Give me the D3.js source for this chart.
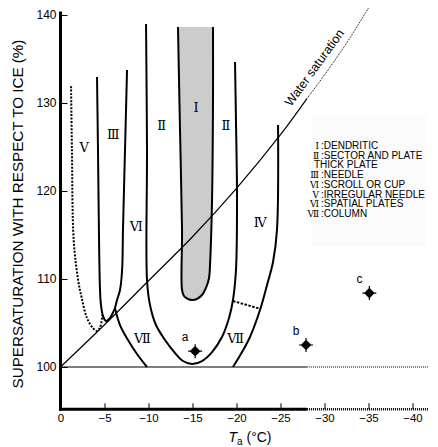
<!DOCTYPE html>
<html>
<head>
<meta charset="utf-8">
<script src="https://cdn.jsdelivr.net/npm/d3@7"></script>
<style>
  body { margin: 0; background: #fff; }
  svg { display: block; }
</style>
</head>
<body>
<span></span>
<script>
// crystal habit diagram: temperature (T_a) vs supersaturation over ice

// tick values
const xTicks = [0, -5, -10, -15, -20, -25, -30, -35, -40];
const yTicks = [100, 110, 120, 130, 140];

// water saturation curve [T, S]
const waterSolid  = [[0,100],[-5,104.8],[-10,109.8],[-15,114.8],[-20,120.3],[-25,126.4],[-28,130.5]];
const waterDotted = [[-28,130.5],[-30,133.2],[-32.5,136.8],[-35,140.8]];

// habit boundaries [T, S]
const curveV = [[-1.2,131.9],[-1.3,124.7],[-1.5,114.4],[-2.0,109.9],[-2.4,107.9],[-3.0,105.6],[-3.7,104.4],[-4.15,104.1],[-4.5,104.5],[-4.75,105.9]];
const curveIII = [[-4.15,132.95],[-4.26,124.7],[-4.38,114.4],[-4.49,108.75],[-4.6,107.05],[-4.83,105.8],[-5.17,105.23],[-5.63,105.57],[-5.97,106.2],[-6.19,106.7],[-6.42,107.6],[-6.76,108.75],[-7.0,111.0],[-7.1,115.57],[-7.33,124.66],[-7.56,133.75]];
const curveVIIa = [[-6.19,106.7],[-6.76,104.77],[-7.67,103.07],[-8.69,101.48],[-9.83,100]];
const curveBigU = [[-9.72,138.98],[-9.83,124.66],[-9.83,109.89],[-10.17,107.05],[-10.85,104.77],[-11.88,103.07],[-13.01,101.59],[-13.92,100.68],[-14.94,100.34],[-16.08,100.68],[-17.22,101.7],[-18.35,103.41],[-19.15,105.57],[-19.6,107.61],[-19.94,111.02],[-20.06,118.98],[-19.94,128.07],[-19.83,134.66]];
const curveIV = [[-24.72,127.5],[-24.6,115.57],[-24.15,111.93],[-23.47,109.32],[-22.67,106.48],[-21.53,103.41],[-20.63,101.7],[-19.6,100]];
const curveVIIb = [[-19.6,107.5],[-22.78,106.59]];
const shadedI = [[-13.35,138.64],[-13.58,126.93],[-13.81,115.57],[-13.81,108.75],[-14.03,108.07],[-14.49,107.73],[-14.94,107.61],[-15.51,107.73],[-16.08,108.18],[-16.53,108.98],[-16.88,110.11],[-16.99,111.59],[-17.22,118.98],[-17.33,130.34],[-17.33,138.64]];

// region labels
const regionNames = ["Ⅰ","Ⅱ","Ⅱ","Ⅲ","Ⅴ","Ⅵ","Ⅳ","Ⅶ","Ⅶ"];
const regionT = [-15.4,-11.5,-18.8,-6.0,-2.7,-8.6,-22.7,-9.3,-19.9];
const regionS = [129.5,127.5,127.5,126.4,125.0,116.0,116.4,103.2,103.2];

// observed points
const pointNames = ["a","b","c"];
const pointT = [-15.3,-27.9,-35.1];
const pointS = [101.8,102.5,108.4];

// legend
const legendNums = ["Ⅰ","Ⅱ","","Ⅲ","Ⅵ","Ⅴ","Ⅵ","Ⅶ"];
const legendText = ["DENDRITIC","SECTOR AND PLATE","THICK PLATE","NEEDLE","SCROLL OR CUP","IRREGULAR NEEDLE","SPATIAL PLATES","COLUMN"];

const width = 438, height = 447;
const numFont = "DejaVu Serif, Liberation Serif, serif";

const svg = d3.select("span").append("svg")
    .attr("width", width)
    .attr("height", height);

const x = d3.scaleLinear().domain([0, -40]).range([60.5, 412.5]);
const y = d3.scaleLinear().domain([100, 140]).range([367, 15]);

const line = d3.line()
    .x(d => x(d[0]))
    .y(d => y(d[1]))
    .curve(d3.curveCatmullRom.alpha(0.5));

const straight = d3.line()
    .x(d => x(d[0]))
    .y(d => y(d[1]));

// very faint legend background
svg.append("rect")
    .attr("x", 312).attr("y", 116)
    .attr("width", 114).attr("height", 130)
    .attr("fill", "#fbfbfb");

// shaded dendritic zone
svg.append("path")
    .datum(shadedI)
    .attr("d", line)
    .attr("fill", "#cccccc")
    .attr("stroke", "none");
svg.append("path")
    .datum(shadedI)
    .attr("d", line)
    .attr("fill", "none")
    .attr("stroke", "#000")
    .attr("stroke-width", 2);

// 100% line
svg.append("line")
    .attr("x1", x(0)).attr("x2", x(-28))
    .attr("y1", y(100)).attr("y2", y(100))
    .attr("stroke", "#000").attr("stroke-width", 1.2);
svg.append("line")
    .attr("x1", x(-28)).attr("x2", x(-41.8))
    .attr("y1", y(100)).attr("y2", y(100))
    .attr("stroke", "#000").attr("stroke-width", 1)
    .attr("stroke-dasharray", "1,1");

// water saturation
svg.append("path")
    .datum(waterSolid)
    .attr("d", line)
    .attr("fill", "none")
    .attr("stroke", "#000")
    .attr("stroke-width", 1.2);
svg.append("path")
    .datum(waterDotted)
    .attr("d", line)
    .attr("fill", "none")
    .attr("stroke", "#000")
    .attr("stroke-width", 1)
    .attr("stroke-dasharray", "1,1");

svg.append("text")
    .attr("transform", "translate(291,107) rotate(-54)")
    .attr("font-family", "Liberation Sans, Arial, sans-serif")
    .attr("font-size", 12.5)
    .text("Water saturation");

// habit boundaries
[curveIII, curveVIIa, curveBigU, curveIV].forEach(c => {
    svg.append("path")
        .datum(c)
        .attr("d", line)
        .attr("fill", "none")
        .attr("stroke", "#000")
        .attr("stroke-width", 2);
});
svg.append("path")
    .datum(curveV)
    .attr("d", line)
    .attr("fill", "none")
    .attr("stroke", "#000")
    .attr("stroke-width", 2)
    .attr("stroke-dasharray", "2,1.5");
svg.append("path")
    .datum(curveVIIb)
    .attr("d", straight)
    .attr("fill", "none")
    .attr("stroke", "#000")
    .attr("stroke-width", 2)
    .attr("stroke-dasharray", "2.5,1.5");

// region labels
svg.selectAll(".region")
    .data(regionNames)
    .enter()
    .append("text")
        .attr("class", "region")
        .attr("x", (d, i) => x(regionT[i]))
        .attr("y", (d, i) => y(regionS[i]))
        .attr("text-anchor", "middle")
        .attr("dominant-baseline", "central")
        .attr("font-family", numFont)
        .attr("font-size", 13)
        .text(d => d);

// points a, b, c
const star = "M0,-4.5L4.5,0L0,4.5L-4.5,0Z M-7,0H7 M0,-7V7";
pointNames.forEach((p, i) => {
    const g = svg.append("g")
        .attr("transform", `translate(${x(pointT[i])},${y(pointS[i])})`);
    g.append("path")
        .attr("d", star)
        .attr("fill", "#000")
        .attr("stroke", "#000")
        .attr("stroke-width", 1.2);
    g.append("text")
        .attr("x", -10).attr("y", -10)
        .attr("text-anchor", "middle")
        .attr("font-family", "Liberation Sans, Arial, sans-serif")
        .attr("font-size", 12)
        .text(p);
});

// legend
legendText.forEach((t, i) => {
    const ly = 149 + i * 9.7;
    svg.append("text")
        .attr("x", 319).attr("y", ly)
        .attr("text-anchor", "end")
        .attr("font-family", numFont)
        .attr("font-size", 9)
        .text(legendNums[i]);
    svg.append("text")
        .attr("x", i === 2 ? 314 : 321).attr("y", ly)
        .attr("font-family", "Liberation Sans, Arial, sans-serif")
        .attr("font-size", 10)
        .text((i === 2 ? "" : ":") + t);
});

// axes
const yAxis = svg.append("g")
    .attr("transform", `translate(${x(0)},0)`)
    .call(d3.axisLeft(y).tickValues(yTicks).tickSize(-7).tickPadding(4));
yAxis.select(".domain").remove();
yAxis.selectAll("text")
    .attr("font-family", "Liberation Sans, Arial, sans-serif")
    .attr("font-size", 12);

const xAxis = svg.append("g")
    .attr("transform", `translate(0,${y(95.2)})`)
    .call(d3.axisBottom(x).tickValues(xTicks).tickSize(-6).tickPadding(5)
        .tickFormat(d => d === 0 ? "0" : "\u2212" + (-d)));
xAxis.select(".domain").remove();
xAxis.selectAll("text")
    .attr("font-family", "Liberation Sans, Arial, sans-serif")
    .attr("font-size", 11.5);

svg.append("line")
    .attr("x1", x(0)).attr("x2", x(0))
    .attr("y1", y(140.4)).attr("y2", y(95.2) + 1.5)
    .attr("stroke", "#000").attr("stroke-width", 3);
svg.append("line")
    .attr("x1", x(0) - 1.5).attr("x2", x(-28))
    .attr("y1", y(95.2)).attr("y2", y(95.2))
    .attr("stroke", "#000").attr("stroke-width", 3);
svg.append("line")
    .attr("x1", x(-28)).attr("x2", x(-41.8))
    .attr("y1", y(95.2)).attr("y2", y(95.2))
    .attr("stroke", "#000").attr("stroke-width", 2.5)
    .attr("stroke-dasharray", "1,1");

// axis titles
svg.append("text")
    .attr("transform", "translate(23,214) rotate(-90)")
    .attr("text-anchor", "middle")
    .attr("font-family", "Liberation Sans, Arial, sans-serif")
    .attr("font-size", 15.2)
    .text("SUPERSATURATION WITH RESPECT TO ICE (%)");

const xt = svg.append("text")
    .attr("x", 250).attr("y", 442)
    .attr("text-anchor", "middle")
    .attr("font-family", "Liberation Sans, Arial, sans-serif")
    .attr("font-size", 14);
xt.append("tspan").attr("font-style", "italic").text("T");
xt.append("tspan").attr("font-size", 10).attr("dy", 3).text("a");
xt.append("tspan").attr("dy", -3).text(" (°C)");
</script>
</body>
</html>
